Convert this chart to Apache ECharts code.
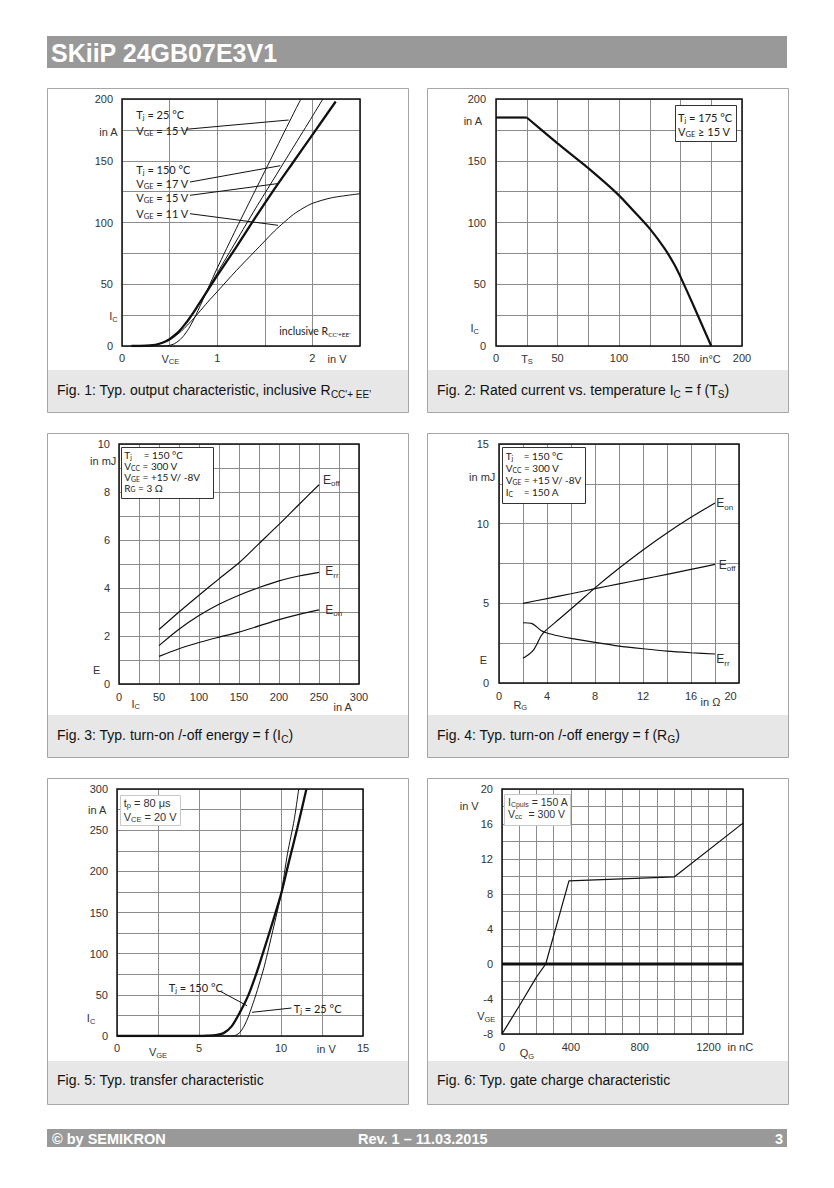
<!DOCTYPE html>
<html><head><meta charset="utf-8">
<script src="https://cdn.jsdelivr.net/npm/echarts@6/dist/echarts.min.js"></script>
<style>html,body{margin:0;padding:0;background:#fff}#c{width:834px;height:1188px}</style>
</head><body><div id="c"></div>
<script>
// ---------------- DATA ----------------
// Fig. 1: output characteristic  [VCE (V), IC (A)]
const fig1Tj25Vge15 = [[0.1,0],[0.45,0],[0.5,0.5],[0.55,1.8],[0.6,4.5],[0.65,8.5],[0.7,14],[0.75,21],[0.8,29],[0.9,46],[1.0,63],[1.2,95],[1.4,126],[1.6,157],[1.8,188],[1.88,200]];
const fig1Tj150Vge17 = [[0.1,0],[0.25,0.2],[0.35,1],[0.4,2],[0.45,3.5],[0.5,5.5],[0.55,8.5],[0.6,12],[0.65,16.5],[0.7,21.5],[0.75,27],[0.8,33],[0.9,46],[1.0,59],[1.2,85],[1.4,111],[1.6,136],[1.8,161],[2.0,186],[2.11,200]];
const fig1Tj150Vge15 = [[0.1,0],[0.25,0.2],[0.35,1],[0.4,2],[0.45,3.5],[0.5,5.5],[0.55,8.5],[0.6,12],[0.65,16.5],[0.7,21.5],[0.75,27],[0.8,33],[0.9,45],[1.0,57],[1.2,80],[1.4,104],[1.6,127],[1.8,149],[2.0,171],[2.245,198]];
const fig1Tj150Vge11 = [[0.1,0],[0.25,0.2],[0.35,1],[0.4,2],[0.45,3.3],[0.5,5],[0.55,7.5],[0.6,10.5],[0.65,14],[0.7,18],[0.75,22],[0.8,26.5],[0.9,35.5],[1.0,44],[1.2,61],[1.4,77],[1.6,93],[1.7,100],[1.8,106.5],[1.9,111.5],[2.0,115.5],[2.2,120],[2.5,123.3]];
const fig1XTicks = [0,1,2];
const fig1YTicks = [0,50,100,150,200];

// Fig. 2: rated current vs. temperature [TS (°C), IC (A)]
const fig2Ic = [[0,185],[25,185],[50,164],[75,144],[100,122],[115,106],[125,95],[137,79],[145,66],[150,56],[160,34],[175,0]];
const fig2XTicks = [0,50,100,150,200];
const fig2YTicks = [0,50,100,150,200];

// Fig. 3: energy vs IC [IC (A), E (mJ)]
const fig3Eoff = [[50,2.27],[75,3.0],[100,3.7],[125,4.38],[150,5.05],[175,5.85],[200,6.65],[225,7.48],[250,8.3]];
const fig3Err  = [[50,1.6],[75,2.28],[100,2.85],[125,3.32],[150,3.7],[175,4.02],[200,4.3],[225,4.5],[250,4.65]];
const fig3Eon  = [[50,1.15],[75,1.47],[100,1.73],[125,1.95],[150,2.16],[175,2.42],[200,2.68],[225,2.9],[250,3.09]];
const fig3XTicks = [0,50,100,150,200,250,300];
const fig3YTicks = [0,2,4,6,8,10];

// Fig. 4: energy vs RG [RG (Ohm), E (mJ)]
const fig4Eon  = [[2,1.55],[2.5,1.8],[2.9,2.1],[3.2,2.5],[3.5,2.95],[3.9,3.3],[5,4.0],[6.5,4.97],[8,5.97],[10,7.2],[12,8.35],[14,9.42],[16,10.4],[18,11.3]];
const fig4Eoff = [[2,5.0],[4,5.3],[6,5.6],[8,5.92],[10,6.22],[12,6.52],[14,6.82],[16,7.13],[18,7.44]];
const fig4Err  = [[2,3.78],[2.7,3.74],[3.1,3.55],[3.5,3.3],[4,3.14],[5,2.95],[6,2.8],[8,2.55],[10,2.32],[12,2.15],[14,2.0],[16,1.9],[18,1.82]];
const fig4XTicks = [0,4,8,12,16,20];
const fig4YTicks = [0,5,10,15];

// Fig. 5: transfer characteristic [VGE (V), IC (A)]
const fig5Tj150 = [[0,0],[5,0],[5.5,0.3],[6,1],[6.5,3.5],[7,12],[7.5,29],[8,49],[8.5,76],[9,107],[9.5,139],[10,172],[10.5,213],[11,253],[11.55,300]];
const fig5Tj25  = [[0,0],[7,0],[7.25,1],[7.5,4.5],[7.75,12],[8,23],[8.25,37],[8.5,52],[8.8,72],[9,86],[9.5,128],[10,172],[10.4,222],[10.8,262],[11.08,300]];
const fig5XTicks = [0,5,10,15];
const fig5YTicks = [0,50,100,150,200,250,300];

// Fig. 6: gate charge [QG (nC), VGE (V)]
const fig6Vge  = [[0,-8],[100,-4.8],[200,-1.5],[254,0],[389,9.5],[1000,9.95],[1400,16.1]];
const fig6Zero = [[0,0],[1400,0]];
const fig6XTicks = [0,400,800,1200];
const fig6YTicks = [-8,-4,0,4,8,12,16,20];

// ---------------- LAYOUT ----------------
const FA = '"Liberation Sans", Arial, Helvetica, sans-serif';
const FC = 'Lato, "Open Sans", "Noto Sans", sans-serif';
const grids = [
  {left:122, top:99,  width:238, height:247},
  {left:496, top:99,  width:246, height:247},
  {left:119, top:444, width:240, height:240},
  {left:499, top:444, width:240, height:239},
  {left:117, top:789, width:246, height:247},
  {left:502, top:789, width:241, height:245}
];
const axX = [
  {min:0,max:2.5,interval:0.5,ticks:fig1XTicks,margin:6},
  {min:0,max:200,interval:25,ticks:fig2XTicks,margin:6},
  {min:0,max:300,interval:25,ticks:fig3XTicks,margin:7},
  {min:0,max:20,interval:2,ticks:fig4XTicks,margin:7,special:{'20':'{r|20}'}},
  {min:0,max:15,interval:2.5,ticks:fig5XTicks,margin:6},
  {min:0,max:1400,interval:100,ticks:fig6XTicks,margin:7}
];
const axY = [
  {min:0,max:200,interval:25,ticks:fig1YTicks,margin:9},
  {min:0,max:200,interval:25,ticks:fig2YTicks,margin:10},
  {min:0,max:10,interval:1,ticks:fig3YTicks,margin:9},
  {min:0,max:15,interval:2.5,ticks:fig4YTicks,margin:10},
  {min:0,max:300,interval:25,ticks:fig5YTicks,margin:9},
  {min:-8,max:20,interval:2,ticks:fig6YTicks,margin:9}
];
function fmt(ticks, special){
  return function(v){
    for (const t of ticks){ if (Math.abs(v - t) < 1e-9){ const s = String(t); return (special && special[s]) ? special[s] : s; } }
    return '';
  };
}
function axis(i, a){
  return {
    gridIndex:i, type:'value', min:a.min, max:a.max, interval:a.interval,
    axisLine:{show:false}, axisTick:{show:false},
    splitLine:{show:true, lineStyle:{color:'#8c8c8c', width:1}},
    axisLabel:{formatter:fmt(a.ticks, a.special), margin:a.margin, fontSize:11, fontFamily:FA, color:'#333',
      showMinLabel:true, showMaxLabel:true, hideOverlap:false,
      rich:{r:{padding:[0,17,0,0], fontSize:11, fontFamily:FA, color:'#333'}}}
  };
}
function ln(gi, data, w, smooth){
  return {type:'line', xAxisIndex:gi, yAxisIndex:gi, data:data, showSymbol:false, symbol:'none',
    smooth: smooth === undefined ? 0.25 : smooth,
    lineStyle:{color:'#111', width:w}, silent:true, clip:true, animation:false};
}

// ---------------- GRAPHICS (frames, text) ----------------
const gfx = [];
function txt(x, y, text, o){
  o = o || {};
  const fs = o.fs || 11, fam = o.fam || FA, col = o.col || '#222';
  const sfs = o.sfs || Math.round(fs * 0.68 * 10) / 10;
  const lh = o.lh || Math.round(fs * 1.3);
  gfx.push({type:'text', x:x, y:y, z:o.z || 60, silent:true,
    style:{text:text, fill:col, fontSize:fs, fontFamily:fam, fontWeight:o.fw || 'normal',
      align:o.align || 'left', verticalAlign:'middle', lineHeight:lh,
      rich:{s:{fontSize:sfs, fontFamily:fam, fontWeight:o.fw || 'normal', fill:col, lineHeight:Math.round(sfs*0.95), verticalAlign:'bottom'}}}});
}
function seg(x1,y1,x2,y2){
  gfx.push({type:'line', z:58, silent:true, shape:{x1:x1,y1:y1,x2:x2,y2:y2}, style:{stroke:'#111', lineWidth:1}});
}
function box(x,y,w,h,stroke){
  gfx.push({type:'rect', z:55, silent:true, shape:{x:x,y:y,width:w,height:h}, style:{fill:'#fff', stroke:stroke, lineWidth:1}});
}
// header & footer
gfx.push({type:'rect', z:1, silent:true, shape:{x:47,y:36,width:740,height:32}, style:{fill:'#999999'}});
txt(51, 52.5, 'SKiiP 24GB07E3V1', {fs:25, fw:'bold', col:'#ffffff'});
gfx.push({type:'rect', z:1, silent:true, shape:{x:47,y:1129,width:740,height:18}, style:{fill:'#999999'}});
txt(52, 1138.5, '© by SEMIKRON', {fs:14.5, fw:'bold', col:'#ffffff'});
txt(358, 1138.5, 'Rev. 1 – 11.03.2015', {fs:14.5, fw:'bold', col:'#ffffff'});
txt(783, 1138.5, '3', {fs:14.5, fw:'bold', col:'#ffffff', align:'right'});
// panels
const panels = [[47,88,361,324,370],[427,88,361,324,370],[47,433,361,324,715],[427,433,361,324,715],[47,778,361,326,1061],[427,778,361,326,1061]];
panels.forEach(function(p){
  gfx.push({type:'rect', z:1, silent:true, shape:{x:p[0],y:p[4],width:p[2],height:p[1]+p[3]-p[4]}, style:{fill:'#e7e7e7'}});
  gfx.push({type:'rect', z:2, silent:true, shape:{x:p[0]+0.5,y:p[1]+0.5,width:p[2],height:p[3]}, style:{fill:'none', stroke:'#a6a6a6', lineWidth:1}});
});
// plot frames
grids.forEach(function(g){
  gfx.push({type:'rect', z:70, silent:true, shape:{x:g.left,y:g.top,width:g.width,height:g.height}, style:{fill:'none', stroke:'#111', lineWidth:1.5}});
});
// captions
txt(57, 390.3, "Fig. 1: Typ. output characteristic, inclusive R{s|CC'+ EE'}", {fs:14, col:'#111', sfs:10});
txt(437, 390.3, 'Fig. 2: Rated current vs. temperature I{s|C} = f (T{s|S})', {fs:14, col:'#111', sfs:10});
txt(57, 735.3, 'Fig. 3: Typ. turn-on /-off energy = f (I{s|C})', {fs:14, col:'#111', sfs:10});
txt(437, 735.3, 'Fig. 4: Typ. turn-on /-off energy = f (R{s|G})', {fs:14, col:'#111', sfs:10});
txt(57, 1079.7, 'Fig. 5: Typ. transfer characteristic', {fs:14, col:'#111'});
txt(437, 1079.7, 'Fig. 6: Typ. gate charge characteristic', {fs:14, col:'#111'});

// Fig 1 texts
txt(117.7, 132.3, 'in A', {align:'right', col:'#333'});
txt(117.7, 316.3, 'I{s|C}', {align:'right', col:'#333'});
txt(170.3, 358.7, 'V{s|CE}', {align:'center', col:'#333'});
txt(337, 358.7, 'in V', {align:'center', col:'#333'});
txt(136.3, 114.7, 'T{s|j} = 25 °C', {fam:FC});
txt(136.3, 130.7, 'V{s|GE} = 15 V', {fam:FC});
seg(186, 129.3, 288.7, 120);
txt(136.3, 169, 'T{s|j} = 150 °C', {fam:FC});
txt(136.3, 183, 'V{s|GE} = 17 V', {fam:FC});
seg(190, 182, 280.3, 165.7);
txt(136.3, 197.3, 'V{s|GE} = 15 V', {fam:FC});
seg(190, 195.3, 277, 183.7);
txt(136.3, 213.7, 'V{s|GE} = 11 V', {fam:FC});
seg(190, 213.7, 278, 225.3);
txt(279.3, 330.7, "inclusive R{s|CC'+EE'}", {fam:FC, fs:10.5, sfs:6.5});

// Fig 2 texts
txt(482, 121.3, 'in A', {align:'right', col:'#333'});
txt(479, 328, 'I{s|C}', {align:'right', col:'#333'});
txt(527, 358.7, 'T{s|S}', {align:'center', col:'#333'});
txt(710.3, 358.7, 'in°C', {align:'center', col:'#333'});
box(675.5, 105.5, 61, 36, '#333');
txt(678, 117, 'T{s|j} = 175 °C', {fam:FC});
txt(678, 131.3, 'V{s|GE} ≥ 15 V', {fam:FC});

// Fig 3 texts
txt(116.3, 461.3, 'in mJ', {align:'right', col:'#333'});
txt(100.3, 670.3, 'E', {align:'right', col:'#333'});
txt(135.7, 703.7, 'I{s|C}', {align:'center', col:'#333'});
txt(342.7, 707, 'in A', {align:'center', col:'#333'});
box(121.5, 447.5, 92, 51, '#333');
txt(124.3, 455.3, 'T{s|j}', {fam:FC, fs:10, lh:10.5});
txt(143.7, 455.3, '= 150 °C', {fam:FC, fs:10, lh:10.5});
txt(124.3, 466.2, 'V{s|CC} = 300 V', {fam:FC, fs:10, lh:10.5});
txt(124.3, 476.9, 'V{s|GE} = +15 V/ -8V', {fam:FC, fs:10, lh:10.5});
txt(124.3, 487.6, 'R{s|G} = 3 Ω', {fam:FC, fs:10, lh:10.5});
txt(323, 479.7, 'E{s|off}', {fs:12, sfs:8, col:'#333'});
txt(325.3, 571.3, 'E{s|rr}', {fs:12, sfs:8, col:'#333'});
txt(325.3, 609.7, 'E{s|on}', {fs:12, sfs:8, col:'#333'});

// Fig 4 texts
txt(495.3, 477.3, 'in mJ', {align:'right', col:'#333'});
txt(487, 660.3, 'E', {align:'right', col:'#333'});
txt(520.3, 704.7, 'R{s|G}', {align:'center', col:'#333'});
txt(710.5, 702.3, 'in Ω', {align:'center', col:'#333'});
box(502.5, 447.5, 83, 56, '#333');
txt(505.7, 456.3, 'T{s|j}', {fam:FC, fs:10, lh:11});
txt(523.7, 456.3, '= 150 °C', {fam:FC, fs:10, lh:11});
txt(505.7, 467.6, 'V{s|CC} = 300 V', {fam:FC, fs:10, lh:11});
txt(505.7, 480, 'V{s|GE} = +15 V/ -8V', {fam:FC, fs:10, lh:11});
txt(505.7, 492.3, 'I{s|C}', {fam:FC, fs:10, lh:11});
txt(523.7, 492.3, '= 150 A', {fam:FC, fs:10, lh:11});
txt(716.3, 503, 'E{s|on}', {fs:12, sfs:8, col:'#333'});
txt(718.7, 564.7, 'E{s|off}', {fs:12, sfs:8, col:'#333'});
txt(716.3, 659, 'E{s|rr}', {fs:12, sfs:8, col:'#333'});

// Fig 5 texts
txt(106.3, 809.7, 'in A', {align:'right', col:'#333'});
txt(95.3, 1018, 'I{s|C}', {align:'right', col:'#333'});
txt(158, 1052, 'V{s|GE}', {align:'center', col:'#333'});
txt(326.3, 1048.7, 'in V', {align:'center', col:'#333'});
box(120.5, 795.5, 60, 30, '#c8c8c8');
txt(123.7, 803, 't{s|p} = 80 μs', {col:'#333', lh:13});
txt(123.7, 817, 'V{s|CE} = 20 V', {col:'#333', lh:13});
txt(168.7, 987.3, 'T{s|j} = 150 °C', {fam:FC});
seg(220.3, 991.3, 247, 1005.7);
txt(293.7, 1008.7, 'T{s|j} = 25 °C', {fam:FC});
seg(252, 1012.3, 291.5, 1008);

// Fig 6 texts
txt(478.7, 806.3, 'in V', {align:'right', col:'#333'});
txt(495.3, 1016.3, 'V{s|GE}', {align:'right', col:'#333'});
txt(527, 1053.3, 'Q{s|G}', {align:'center', col:'#333'});
txt(740.3, 1047.3, 'in nC', {align:'center', col:'#333'});
box(504.5, 794.5, 66, 31, '#c8c8c8');
txt(508, 802.3, 'I{s|Cpuls} = 150 A', {col:'#333', fs:10.5, sfs:7, lh:12});
txt(508, 814.3, 'V{s|cc}', {col:'#333', fs:10.5, sfs:7, lh:12});
txt(528.5, 814.3, '= 300 V', {col:'#333', fs:10.5, lh:12});

// ---------------- CHART ----------------
const chart = echarts.init(document.getElementById('c'), null, {renderer:'svg', width:834, height:1188});
const option = {
  animation:false,
  backgroundColor:'#ffffff',
  grid: grids.map(function(g){ return Object.assign({show:false, containLabel:false, outerBoundsMode:'none'}, g); }),
  xAxis: axX.map(function(a,i){ return axis(i,a); }),
  yAxis: axY.map(function(a,i){ return axis(i,a); }),
  series: [
    ln(0, fig1Tj25Vge15, 1), ln(0, fig1Tj150Vge17, 1), ln(0, fig1Tj150Vge15, 2.3), ln(0, fig1Tj150Vge11, 1),
    ln(1, fig2Ic.slice(0, 2), 2.2, false), ln(1, fig2Ic.slice(1), 2.2, 0.12),
    ln(2, fig3Eoff, 1.2), ln(2, fig3Err, 1.2), ln(2, fig3Eon, 1.2),
    ln(3, fig4Eon, 1.2), ln(3, fig4Eoff, 1.2), ln(3, fig4Err, 1.2),
    ln(4, fig5Tj150, 2.3), ln(4, fig5Tj25, 1),
    ln(5, fig6Vge, 1.2, false), ln(5, fig6Zero, 3, false)
  ],
  graphic: {elements: gfx}
};
chart.setOption(option);
</script></body></html>
